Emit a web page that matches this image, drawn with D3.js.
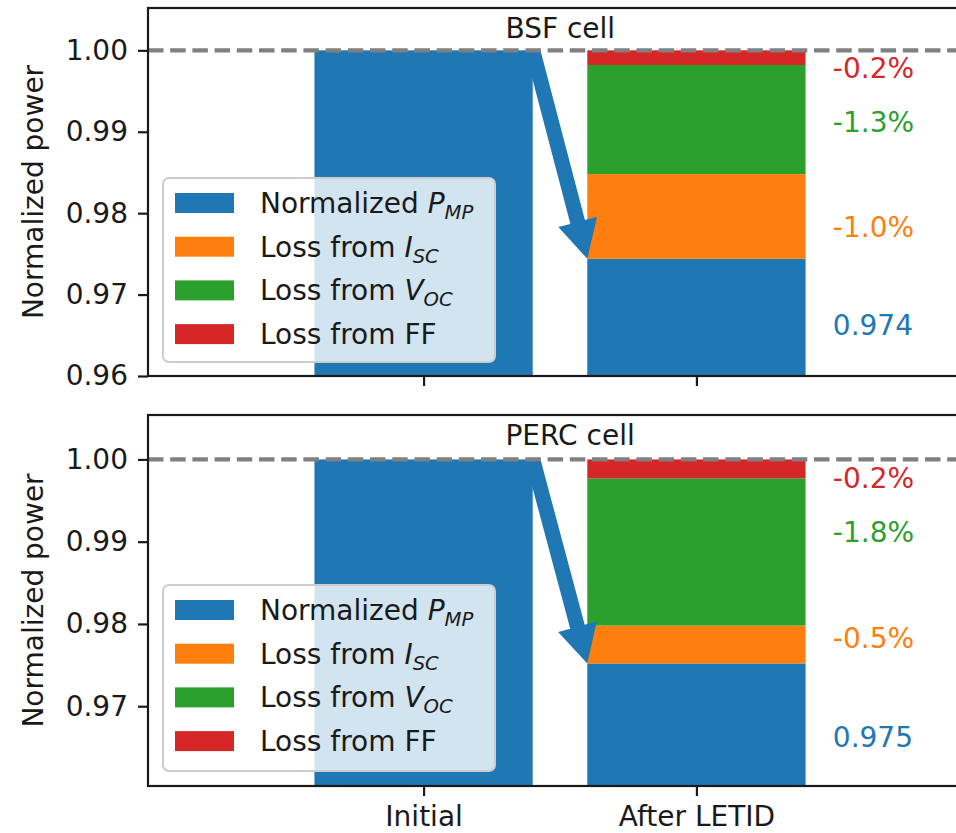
<!DOCTYPE html>
<html>
<head>
<meta charset="utf-8">
<script src="https://cdn.jsdelivr.net/npm/d3@7"></script>
<style>
  body { margin: 0; background: #fff; }
  svg { display: block; font-family: "DejaVu Sans", sans-serif; }
</style>
</head>
<body>
<svg id="chart" width="956" height="833"></svg>
<script>
// ---- data ----
const cells = ["BSF cell", "PERC cell"];
const stages = ["Initial", "After LETID"];
const initialPower = [1.00, 1.00];
const normalizedPmp = [0.9744, 0.9752];
const lossIsc = [0.0104, 0.0046];
const lossVoc = [0.0134, 0.0179];
const lossFf = [0.0018, 0.0023];
const yTickValues = [0.96, 0.97, 0.98, 0.99, 1.00];
const yLimits = [[0.96, 1.0052], [0.9603, 1.0054]];
const xLimits = [-1.01, 2.01];
const referenceLevel = 1.00;
// heights (data units) at which the value annotations sit: Pmp, Isc, Voc, FF
const annotationLevels = [0.9663, 0.9783, 0.9912, 0.9978];
const legendEntries = [
  [{ t: "Normalized " }, { t: "P", i: true }, { t: "MP", i: true, sub: true }],
  [{ t: "Loss from " }, { t: "I", i: true }, { t: "SC", i: true, sub: true }],
  [{ t: "Loss from " }, { t: "V", i: true }, { t: "OC", i: true, sub: true }],
  [{ t: "Loss from FF" }]
];

// ---- styling ----
const colors = ["#1f77b4", "#ff7f0e", "#2ca02c", "#d62728"];
const fontSize = 28;
const panels = [{ top: 8, bottom: 376 }, { top: 415, bottom: 786 }];
const plotLeft = 148, plotRight = 972;
const barWidth = 0.8;
const ink = "#1a1a1a";

const svg = d3.select("#chart");
const x = d3.scaleLinear().domain(xLimits).range([plotLeft, plotRight]);

panels.forEach((pan, p) => {
  const y = d3.scaleLinear().domain(yLimits[p]).range([pan.bottom, pan.top]);
  const g = svg.append("g");
  const clipId = "clip" + p;
  svg.append("defs").append("clipPath").attr("id", clipId)
    .append("rect").attr("x", plotLeft).attr("y", pan.top)
    .attr("width", plotRight - plotLeft).attr("height", pan.bottom - pan.top);
  const plot = g.append("g").attr("clip-path", `url(#${clipId})`);
  const halfBar = x(barWidth / 2) - x(0);
  const floor = yLimits[p][0] - 0.01;

  // initial bar
  plot.append("rect")
    .attr("x", x(0) - halfBar).attr("width", 2 * halfBar)
    .attr("y", y(initialPower[p])).attr("height", y(floor) - y(initialPower[p]))
    .attr("fill", colors[0]);

  // stacked bar after degradation
  const parts = [normalizedPmp[p], lossIsc[p], lossVoc[p], lossFf[p]];
  let acc = 0;
  const segs = parts.map((v, k) => {
    const lo = k === 0 ? floor : acc;
    acc = k === 0 ? v : acc + v;
    return { lo, hi: acc, k };
  });
  plot.selectAll("rect.seg").data(segs).join("rect").attr("class", "seg")
    .attr("x", x(1) - halfBar).attr("width", 2 * halfBar)
    .attr("y", d => y(d.hi)).attr("height", d => y(d.lo) - y(d.hi))
    .attr("fill", d => colors[d.k]);

  // arrow from the initial bar to the remaining power
  const tail = [x(0) + halfBar, y(initialPower[p])];
  const tip = [x(1) - halfBar, y(normalizedPmp[p])];
  const dx = tip[0] - tail[0], dy = tip[1] - tail[1];
  const len = Math.hypot(dx, dy);
  const ux = dx / len, uy = dy / len, px = -uy, py = ux;
  const sw = 15, hw = 40, hl = 38;
  const neck = [tip[0] - ux * hl, tip[1] - uy * hl];
  const pts = [
    [tail[0] + px * sw / 2, tail[1] + py * sw / 2],
    [neck[0] + px * sw / 2, neck[1] + py * sw / 2],
    [neck[0] + px * hw / 2, neck[1] + py * hw / 2],
    tip,
    [neck[0] - px * hw / 2, neck[1] - py * hw / 2],
    [neck[0] - px * sw / 2, neck[1] - py * sw / 2],
    [tail[0] - px * sw / 2, tail[1] - py * sw / 2]
  ];
  plot.append("polygon").attr("points", pts.map(d => d.join(",")).join(" "))
    .attr("fill", colors[0]);

  // reference line at full power
  plot.append("line")
    .attr("x1", plotLeft).attr("x2", plotRight)
    .attr("y1", y(referenceLevel)).attr("y2", y(referenceLevel))
    .attr("stroke", "#808080").attr("stroke-width", 4.2)
    .attr("stroke-dasharray", "15.5 6.7");

  // value annotations
  const fmtPct = d3.format(".1%");
  const annText = [
    d3.format(".3f")(normalizedPmp[p]),
    "-" + fmtPct(lossIsc[p]),
    "-" + fmtPct(lossVoc[p]),
    "-" + fmtPct(lossFf[p])
  ];
  g.selectAll("text.ann").data(annText).join("text").attr("class", "ann")
    .attr("x", x(1.5)).attr("y", (d, k) => y(annotationLevels[k]) + 10)
    .attr("font-size", fontSize).attr("fill", (d, k) => colors[k])
    .text(d => d);

  // panel title
  g.append("text").attr("x", x(0.3)).attr("y", pan.top + 29.5)
    .attr("font-size", fontSize).attr("fill", ink).text(cells[p]);

  // axes
  const yAxis = d3.axisLeft(y).tickValues(yTickValues.filter(v => v >= yLimits[p][0] && v <= yLimits[p][1]))
    .tickFormat(d3.format(".2f")).tickSize(10).tickPadding(10);
  const ya = g.append("g").attr("transform", `translate(${plotLeft},0)`).call(yAxis);
  const xAxis = d3.axisBottom(x).tickValues([0, 1])
    .tickFormat((d, k) => p === panels.length - 1 ? stages[k] : "")
    .tickSize(10).tickPadding(10);
  const xa = g.append("g").attr("transform", `translate(0,${pan.bottom})`).call(xAxis);
  [ya, xa].forEach(a => {
    a.select(".domain").remove();
    a.selectAll("line").attr("stroke", ink).attr("stroke-width", 2.2);
    a.selectAll("text").attr("font-size", fontSize).attr("fill", ink)
      .attr("font-family", "DejaVu Sans, sans-serif");
  });

  g.append("text")
    .attr("transform", `translate(43,${(pan.top + pan.bottom) / 2}) rotate(-90)`)
    .attr("text-anchor", "middle").attr("font-size", fontSize).attr("fill", ink)
    .text("Normalized power");

  // frame
  g.append("rect").attr("x", plotLeft).attr("y", pan.top)
    .attr("width", plotRight - plotLeft).attr("height", pan.bottom - pan.top)
    .attr("fill", "none").attr("stroke", ink).attr("stroke-width", 2.2);

  // legend
  const legTop = p === 0 ? 178 : 585;
  const legH = p === 0 ? 184 : 186;
  const leg = g.append("g").attr("transform", `translate(163,${legTop})`);
  leg.append("rect").attr("width", 332).attr("height", legH).attr("rx", 6)
    .attr("fill", "rgba(255,255,255,0.8)").attr("stroke", "#cccccc").attr("stroke-width", 2);
  const rowGap = 43.7, firstRow = 25;
  legendEntries.forEach((entry, k) => {
    const cy = firstRow + k * rowGap;
    leg.append("rect").attr("x", 12).attr("y", cy - 10).attr("width", 59).attr("height", 20)
      .attr("fill", colors[k]);
    const t = leg.append("text").attr("x", 97).attr("y", cy + 10)
      .attr("font-size", fontSize).attr("fill", ink);
    let shifted = false;
    entry.forEach(part => {
      const ts = t.append("tspan").text(part.t);
      if (part.i) ts.attr("font-style", "italic");
      if (part.sub) { ts.attr("font-size", fontSize * 0.7).attr("dy", 6); shifted = true; }
    });
  });
});
</script>
</body>
</html>
